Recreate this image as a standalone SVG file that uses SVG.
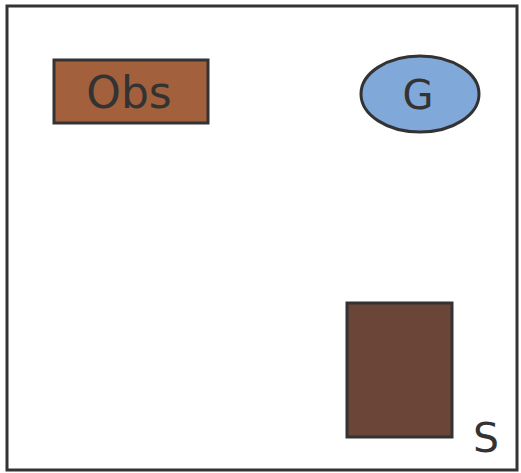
<svg xmlns="http://www.w3.org/2000/svg" width="521" height="473" viewBox="0 0 521 473">
<style>
.lbl{font-family:"DejaVu Sans",sans-serif;fill:#333333}
.n{stroke:#333333;stroke-width:3}
</style>
<rect x="0" y="0" width="521" height="473" fill="#ffffff"/>
<rect x="7" y="6" width="510" height="464" fill="none" stroke="#333333" stroke-width="3"/>
<g id="obs">
<rect class="n" x="54" y="60" width="154" height="63" fill="#a2603c"/>
<text class="lbl" x="129" y="108" font-size="44" text-anchor="middle">Obs</text>
</g>
<g id="g">
<ellipse class="n" cx="420" cy="94" rx="59" ry="38" fill="#80a8d8"/>
<text class="lbl" x="418" y="109" font-size="40" text-anchor="middle">G</text>
</g>
<g id="s">
<rect class="n" x="347" y="303" width="105" height="134" fill="#6b4538"/>
<text class="lbl" x="486" y="452" font-size="41" text-anchor="middle">S</text>
</g>
<g id="connectors"></g>
</svg>
